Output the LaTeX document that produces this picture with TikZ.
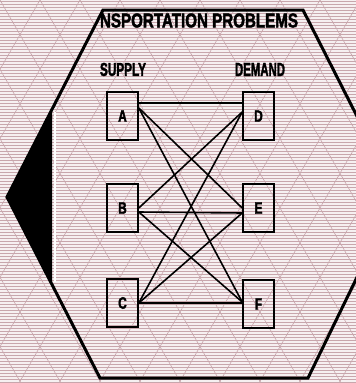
\documentclass[tikz,border=0pt]{standalone}
\usepackage{fontspec}
\newfontfamily\cnd{Liberation Sans Bold}[FakeStretch=0.72,FakeBold=2]
\definecolor{bgc}{RGB}{246,240,241}
\definecolor{hatchc}{RGB}{200,166,172}
\begin{document}
\begin{tikzpicture}[x=1pt,y=-1pt,
  hatch/.style={hatchc,line width=0.6pt},
  boxnode/.style={draw,line width=1.6pt,minimum width=31pt,minimum height=48pt,inner sep=0pt,
    font=\cnd\fontsize{16.5}{16.5}\selectfont},
  conn/.style={line width=1.6pt},
  hexline/.style={line width=3pt,line join=miter}]
\useasboundingbox (0,0) rectangle (356,383);
\clip (0,0) rectangle (356,383);
\fill[bgc] (0,0) rectangle (356,383);
\foreach \y in {1.5,4.5,...,383} \draw[hatch] (0,\y) -- (356,\y);
\foreach \x in {-440,-400,...,800} {
  \draw[hatch] (\x,0) -- ({\x+221},383);
  \draw[hatch] (\x,0) -- ({\x-221},383);
}
% black shadow wedge
\fill[black] (52,109) -- (7,197) -- (52,285) -- cycle;
\draw[white,line width=2pt] (54.5,112) -- (54.5,282);
% hexagon
\draw[hexline] (103,10) -- (303,10) -- (397,195) -- (308,378) -- (100,378) -- (7,197) -- cycle;
% texts
\node[inner sep=0pt] (title) at (199,20.5) {\resizebox{198pt}{14pt}{\cnd NSPORTATION PROBLEMS}};
\node[inner sep=0pt] (supply) at (123,69.5) {\resizebox{46pt}{13pt}{\cnd SUPPLY}};
\node[inner sep=0pt] (demand) at (260,69.5) {\resizebox{50pt}{13pt}{\cnd DEMAND}};
% boxes
\node[boxnode] (A) at (122.5,116) {A};
\node[boxnode] (B) at (122.5,208) {B};
\node[boxnode] (C) at (122.5,303) {C};
\node[boxnode] (D) at (258.5,116) {D};
\node[boxnode] (E) at (258.5,208) {E};
\node[boxnode] (F) at (258.5,304) {F};
% connectors
\draw[conn] ([yshift=13pt]A.east) -- ([yshift=13pt]D.west);
\draw[conn] ([yshift=8pt]A.east) -- (E.west);
\draw[conn] ([yshift=8pt]A.east) -- ([yshift=2pt]F.west);
\draw[conn] (B.east) -- ([yshift=4pt]D.west);
\draw[conn] ([yshift=-4pt]B.east) -- ([yshift=-5pt]E.west);
\draw[conn] ([yshift=-4pt]B.east) -- ([yshift=2pt]F.west);
\draw[conn] (C.east) -- ([yshift=4pt]D.west);
\draw[conn] (C.east) -- ([yshift=-5pt]E.west);
\draw[conn] (C.east) -- ([yshift=1pt]F.west);
\end{tikzpicture}
\end{document}
